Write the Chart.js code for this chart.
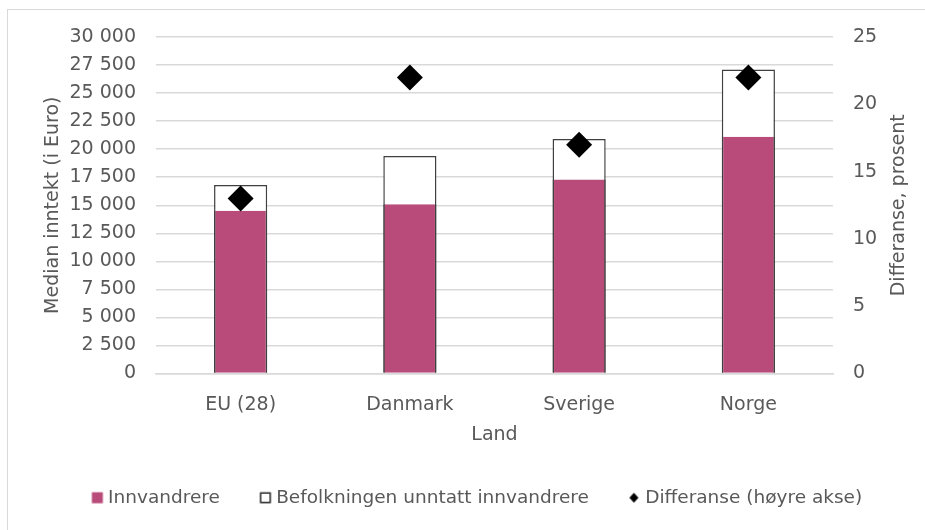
<!DOCTYPE html>
<html>
<head>
<meta charset="utf-8">
<script src="https://cdn.jsdelivr.net/npm/chart.js@4"></script>
<style>
  html, body { margin: 0; padding: 0; background: #ffffff; overflow: hidden; }
  #wrap { position: relative; width: 925px; height: 530px; }
  #frame { position: absolute; left: 7px; top: 9px; width: 930px; height: 540px;
           border-left: 1.5px solid #D9D9D9; border-top: 1.5px solid #D9D9D9; box-sizing: border-box; pointer-events: none; }
  canvas { position: absolute; left: 0; top: 0; }
</style>
</head>
<body>
<div id="wrap">
  <canvas id="c" width="925" height="530"></canvas>
  <div id="frame"></div>
</div>
<script>
// ---- data ----
const categories = ['EU (28)', 'Danmark', 'Sverige', 'Norge'];
const innvandrere = [14500, 15100, 17300, 21100];
const befolkningen = [16800, 19400, 20900, 27100];
const differanse = [13, 22, 17, 22];
const seriesNames = ['Innvandrere', 'Befolkningen unntatt innvandrere', 'Differanse (høyre akse)'];
const leftAxisTitle = 'Median inntekt (i Euro)';
const rightAxisTitle = 'Differanse, prosent';
const xAxisTitle = 'Land';

const PINK = '#B84B7A';
const EDGE = '#404040';
const TEXT = '#595959';
const GRID = '#D9D9D9';
const FONT = '"DejaVu Sans", Verdana, sans-serif';

Chart.defaults.font.family = FONT;
Chart.defaults.font.size = 19;
Chart.defaults.color = TEXT;

function fmt(v) {
  return String(v).replace(/\B(?=(\d{3})+(?!\d))/g, ' ');
}

// legend icons (image canvases), icon placed near right of the box
const BW = 23;
function makeIcon(kind) {
  const W = 2 * BW, H = 14;
  const cv = document.createElement('canvas');
  cv.width = W; cv.height = H;
  const g = cv.getContext('2d');
  const left = W / 2 - BW / 2 + (BW - 7);
  if (kind === 'pink') {
    g.fillStyle = PINK;
    g.fillRect(left, 1.5, 11, 11);
  } else if (kind === 'white') {
    g.fillStyle = '#ffffff';
    g.fillRect(left, 1.5, 11, 11);
    g.strokeStyle = '#222222';
    g.lineWidth = 1.5;
    g.strokeRect(left + 0.75, 2.25, 9.5, 9.5);
  } else {
    g.fillStyle = '#000000';
    g.beginPath();
    const cx = left + 5, cy = 7;
    g.moveTo(cx, cy - 5); g.lineTo(cx + 4.5, cy); g.lineTo(cx, cy + 5); g.lineTo(cx - 4.5, cy);
    g.closePath(); g.fill();
  }
  return cv;
}
const icons = [makeIcon('pink'), makeIcon('white'), makeIcon('diamond')];

const rightTitlePlugin = {
  id: 'rightTitle',
  afterDraw(chart) {
    const s = chart.scales.y2;
    const ctx = chart.ctx;
    ctx.save();
    ctx.font = '19px ' + FONT;
    ctx.fillStyle = TEXT;
    ctx.textAlign = 'center';
    ctx.textBaseline = 'middle';
    ctx.translate(s.left + 66, (s.top + s.bottom) / 2);
    ctx.rotate(-Math.PI / 2);
    ctx.fillText(rightAxisTitle, 0, 0);
    ctx.restore();
  }
};

new Chart(document.getElementById('c'), {
  type: 'bar',
  data: {
    labels: categories,
    datasets: [
      {
        label: seriesNames[0],
        data: innvandrere,
        backgroundColor: PINK,
        borderColor: EDGE,
        borderWidth: { left: 1.5, right: 1.5, top: 0, bottom: 0 },
        borderSkipped: false,
        categoryPercentage: 1,
        barPercentage: 0.314,
        yAxisID: 'y',
        order: 1
      },
      {
        label: seriesNames[1],
        data: befolkningen,
        backgroundColor: '#ffffff',
        borderColor: EDGE,
        borderWidth: 1.5,
        categoryPercentage: 1,
        barPercentage: 0.314,
        yAxisID: 'y',
        order: 2
      },
      {
        type: 'line',
        label: seriesNames[2],
        data: differanse,
        showLine: false,
        pointStyle: 'rectRot',
        pointRadius: 13,
        pointHoverRadius: 13,
        pointBackgroundColor: '#000000',
        pointBorderColor: '#000000',
        pointBorderWidth: 0,
        backgroundColor: '#000000',
        borderColor: '#000000',
        yAxisID: 'y2',
        order: 0
      }
    ]
  },
  options: {
    responsive: false,
    animation: false,
    events: [],
    layout: { padding: { left: 38, right: 25, top: 37, bottom: 13 } },
    scales: {
      x: {
        stacked: true,
        grid: { display: false, drawTicks: false },
        border: { display: true, color: GRID, width: 1.5 },
        ticks: { padding: 20, color: TEXT, maxRotation: 0 },
        title: { display: true, text: xAxisTitle, color: TEXT, padding: { top: 4, bottom: 18 } },
        afterFit(s) { s.height = 91; }
      },
      y: {
        position: 'left',
        stacked: false,
        min: 0, max: 30000,
        ticks: { stepSize: 2500, padding: 20, color: TEXT, callback: (v) => fmt(v) },
        grid: { color: GRID, lineWidth: 1.5, drawTicks: false },
        border: { display: false },
        title: { display: true, text: leftAxisTitle, color: TEXT, padding: { top: 4, bottom: 4 } },
        afterFit(s) { s.width = 156 - 38; }
      },
      y2: {
        position: 'right',
        min: 0, max: 25,
        ticks: { stepSize: 5, padding: 20, color: TEXT },
        grid: { display: false, drawTicks: false },
        border: { display: false },
        afterFit(s) { s.width = 925 - 25 - 833; }
      }
    },
    plugins: {
      tooltip: { enabled: false },
      legend: {
        position: 'bottom',
        labels: {
          usePointStyle: true,
          pointStyleWidth: BW,
          padding: 24,
          color: TEXT,
          font: { size: 18.5 },
          generateLabels(chart) {
            const items = Chart.defaults.plugins.legend.labels.generateLabels(chart);
            items.forEach(it => { it.pointStyle = icons[it.datasetIndex]; it.lineWidth = 0; });
            return items;
          },
          sort: (a, b) => a.datasetIndex - b.datasetIndex
        }
      }
    }
  },
  plugins: [rightTitlePlugin]
});
</script>
</body>
</html>
